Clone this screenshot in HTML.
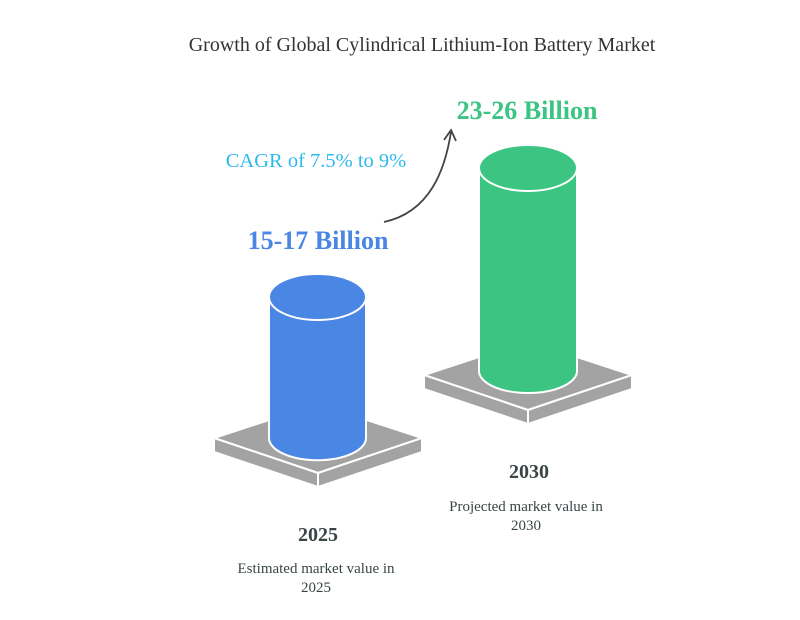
<!DOCTYPE html>
<html><head><style>body{margin:0;background:#fff}svg{display:block}</style></head><body>
<svg width="800" height="620" viewBox="0 0 800 620" xmlns="http://www.w3.org/2000/svg" font-family="Liberation Serif, serif">
<text x="422" y="51" text-anchor="middle" font-size="20" fill="#333">Growth of Global Cylindrical Lithium-Ion Battery Market</text>
<!-- blue base -->
<polygon points="214,438 318,404 422,438 318,473" fill="#a3a3a3" stroke="#fff" stroke-width="2"/>
<polygon points="214,438 318,473 318,487 214,452" fill="#a3a3a3" stroke="#fff" stroke-width="2"/>
<polygon points="318,473 422,438 422,452 318,487" fill="#a3a3a3" stroke="#fff" stroke-width="2"/>
<path d="M269,297 L269,438 A48,22 0 0 0 366,438 L366,297 Z" fill="#4a86e4" stroke="#fff" stroke-width="2"/>
<ellipse cx="317.5" cy="297" rx="48.5" ry="23" fill="#4a86e4" stroke="#fff" stroke-width="2"/>
<!-- green base -->
<polygon points="424,375 528,341 632,375 528,410" fill="#a3a3a3" stroke="#fff" stroke-width="2"/>
<polygon points="424,375 528,410 528,424 424,389" fill="#a3a3a3" stroke="#fff" stroke-width="2"/>
<polygon points="528,410 632,375 632,389 528,424" fill="#a3a3a3" stroke="#fff" stroke-width="2"/>
<path d="M479,168 L479,371 A49,22 0 0 0 577,371 L577,168 Z" fill="#3cc482" stroke="#fff" stroke-width="2"/>
<ellipse cx="528" cy="168" rx="49" ry="23" fill="#3cc482" stroke="#fff" stroke-width="2"/>
<text x="527" y="119" text-anchor="middle" font-size="26" font-weight="bold" fill="#3cc482">23-26 Billion</text>
<text x="318" y="249" text-anchor="middle" font-size="26" font-weight="bold" fill="#4a86e4">15-17 Billion</text>
<text x="316" y="167" text-anchor="middle" font-size="20.5" fill="#2bbaf0">CAGR of 7.5% to 9%</text>
<path d="M384,222 C430,212 445,170 451,132" fill="none" stroke="#444" stroke-width="1.8"/>
<path d="M444,140 L451,130 L456,141" fill="none" stroke="#444" stroke-width="1.8"/>
<text x="529" y="478" text-anchor="middle" font-size="20" font-weight="bold" fill="#3a4646">2030</text>
<text x="526" y="511" text-anchor="middle" font-size="15" fill="#3a4646">Projected market value in</text>
<text x="526" y="530" text-anchor="middle" font-size="15" fill="#3a4646">2030</text>
<text x="318" y="541" text-anchor="middle" font-size="20" font-weight="bold" fill="#3a4646">2025</text>
<text x="316" y="573" text-anchor="middle" font-size="15" fill="#3a4646">Estimated market value in</text>
<text x="316" y="592" text-anchor="middle" font-size="15" fill="#3a4646">2025</text>
</svg>
</body></html>
